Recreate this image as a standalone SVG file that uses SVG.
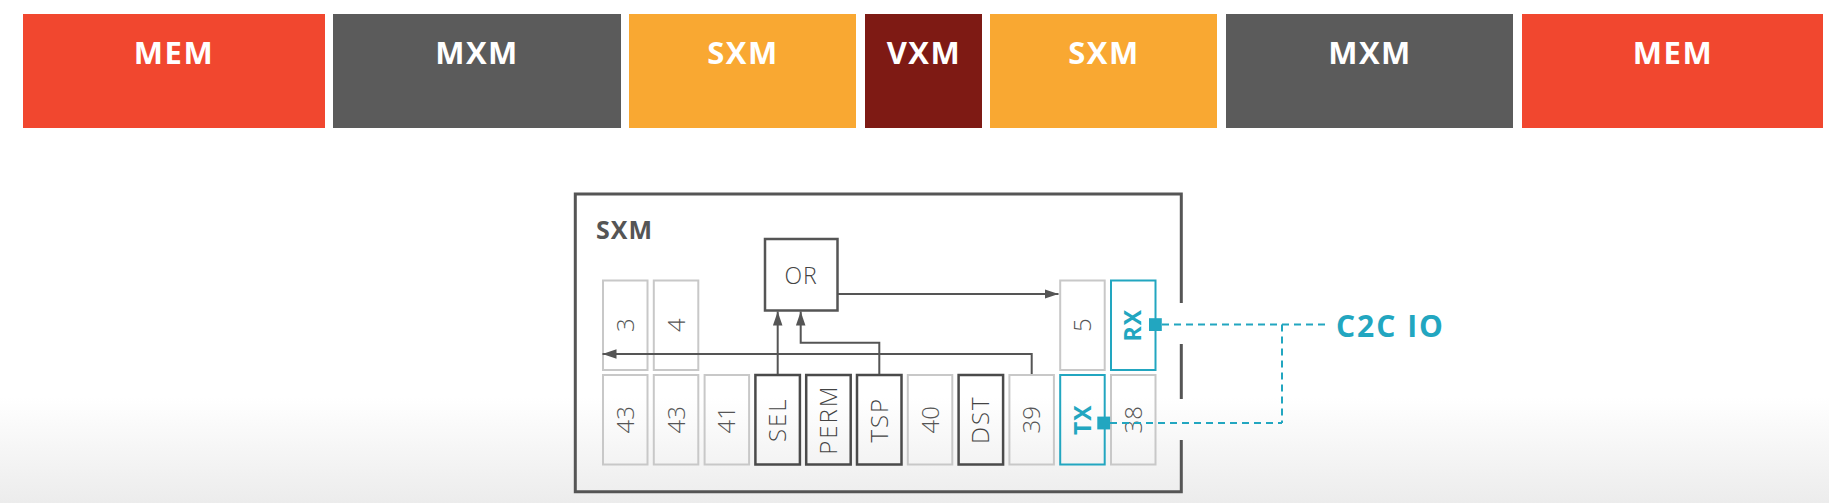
<svg xmlns="http://www.w3.org/2000/svg" width="1829" height="503" viewBox="0 0 1829 503">
<defs>
<linearGradient id="bg" x1="0" y1="0" x2="0" y2="503" gradientUnits="userSpaceOnUse">
<stop offset="0" stop-color="#ffffff"/>
<stop offset="0.79" stop-color="#ffffff"/>
<stop offset="1" stop-color="#ececec"/>
</linearGradient>
<marker id="ah" markerUnits="userSpaceOnUse" markerWidth="15" markerHeight="10" refX="14" refY="4.75" orient="auto">
<path d="M0,0 L14,4.75 L0,9.5 z" fill="#555"/>
</marker>
<style>
.bar text{font-family:"Open Sans","Liberation Sans",sans-serif;font-weight:700;font-size:31px;fill:#fff;text-anchor:middle;letter-spacing:1.5px}
.lc rect{fill:none;stroke:#c8c8c8;stroke-width:2}
.dc rect{fill:none;stroke:#4a4a4a;stroke-width:2.5}
.tc rect{fill:none;stroke:#22a6c0;stroke-width:2}
.tc rect.port,.port{fill:#22a6c0;stroke:none}
.num{font-family:"Open Sans","Liberation Sans",sans-serif;font-weight:300;font-size:24px;fill:#555;text-anchor:middle}
.lbl{font-family:"Open Sans","Liberation Sans",sans-serif;font-weight:300;font-size:24px;fill:#444;text-anchor:middle;letter-spacing:2px}
.tlbl{font-family:"Open Sans","Liberation Sans",sans-serif;font-weight:700;font-size:23px;fill:#22a6c0;text-anchor:middle;letter-spacing:1px}
.conn path{fill:none;stroke:#555;stroke-width:2}
.io path{fill:none;stroke:#22a6c0;stroke-width:2;stroke-dasharray:7 5}
</style>
</defs>
<rect x="0" y="0" width="1829" height="503" fill="url(#bg)"/>

<g id="bar-mem1" class="bar"><rect x="23" y="14" width="302" height="114" fill="#f1472f"/><text x="174" y="64">MEM</text></g>
<g id="bar-mxm1" class="bar"><rect x="333" y="14" width="288" height="114" fill="#5b5b5b"/><text x="477" y="64">MXM</text></g>
<g id="bar-sxm1" class="bar"><rect x="629" y="14" width="227" height="114" fill="#f9a832"/><text x="743" y="64">SXM</text></g>
<g id="bar-vxm" class="bar"><rect x="865" y="14" width="117" height="114" fill="#7e1a14"/><text x="924" y="64">VXM</text></g>
<g id="bar-sxm2" class="bar"><rect x="990" y="14" width="227" height="114" fill="#f9a832"/><text x="1104" y="64">SXM</text></g>
<g id="bar-mxm2" class="bar"><rect x="1226" y="14" width="287" height="114" fill="#5b5b5b"/><text x="1370" y="64">MXM</text></g>
<g id="bar-mem2" class="bar"><rect x="1522" y="14" width="301" height="114" fill="#f1472f"/><text x="1673" y="64">MEM</text></g>

<g id="sxm-box">
<path d="M1181.3,303 V194 H575.3 V491.7 H1181.3 V440 M1181.3,344 V399" fill="none" stroke="#555" stroke-width="3"/>
<text x="596" y="239" font-family="'Open Sans','Liberation Sans',sans-serif" font-weight="700" font-size="25" fill="#555" letter-spacing="1">SXM</text>
</g>

<g id="or">
<rect x="765" y="239" width="72.5" height="71.5" fill="none" stroke="#555" stroke-width="2.5"/>
<text x="801" y="284" font-family="'Open Sans','Liberation Sans',sans-serif" font-weight="300" font-size="23" fill="#444" text-anchor="middle" letter-spacing="1">OR</text>
</g>

<g id="cell-3" class="lc"><rect x="603" y="280.5" width="44.5" height="89.5"/><text class="num" transform="translate(625.2,325.2) rotate(-90)" dy="0.36em">3</text></g>
<g id="cell-4" class="lc"><rect x="653.8" y="280.5" width="44.5" height="89.5"/><text class="num" transform="translate(676,325.2) rotate(-90)" dy="0.36em">4</text></g>
<g id="cell-5" class="lc"><rect x="1060.2" y="280.5" width="44.5" height="89.5"/><text class="num" transform="translate(1082.4,325.2) rotate(-90)" dy="0.36em">5</text></g>
<g id="cell-rx" class="tc"><rect x="1111" y="280.5" width="44.5" height="89.5"/><text class="tlbl" transform="translate(1133.2,325.2) rotate(-90)" dy="0.36em">RX</text><rect class="port" x="1149" y="318.2" width="12.8" height="12.8"/></g>

<g id="cell-43a" class="lc"><rect x="603" y="375" width="44.5" height="89.5"/><text class="num" transform="translate(625.2,419.7) rotate(-90)" dy="0.36em">43</text></g>
<g id="cell-43b" class="lc"><rect x="653.8" y="375" width="44.5" height="89.5"/><text class="num" transform="translate(676,419.7) rotate(-90)" dy="0.36em">43</text></g>
<g id="cell-41" class="lc"><rect x="704.6" y="375" width="44.5" height="89.5"/><text class="num" transform="translate(726.8,419.7) rotate(-90)" dy="0.36em">41</text></g>
<g id="cell-sel" class="dc"><rect x="755.4" y="375" width="44.5" height="89.5"/><text class="lbl" transform="translate(777.6,419.7) rotate(-90)" dy="0.36em">SEL</text></g>
<g id="cell-perm" class="dc"><rect x="806.2" y="375" width="44.5" height="89.5"/><text class="lbl" transform="translate(828.4,419.7) rotate(-90)" dy="0.36em">PERM</text></g>
<g id="cell-tsp" class="dc"><rect x="857" y="375" width="44.5" height="89.5"/><text class="lbl" transform="translate(879.2,419.7) rotate(-90)" dy="0.36em">TSP</text></g>
<g id="cell-40" class="lc"><rect x="907.8" y="375" width="44.5" height="89.5"/><text class="num" transform="translate(930,419.7) rotate(-90)" dy="0.36em">40</text></g>
<g id="cell-dst" class="dc"><rect x="958.6" y="375" width="44.5" height="89.5"/><text class="lbl" transform="translate(980.8,419.7) rotate(-90)" dy="0.36em">DST</text></g>
<g id="cell-39" class="lc"><rect x="1009.4" y="375" width="44.5" height="89.5"/><text class="num" transform="translate(1031.6,419.7) rotate(-90)" dy="0.36em">39</text></g>
<g id="cell-38" class="lc"><rect x="1111" y="375" width="44.5" height="89.5"/><text class="num" transform="translate(1133.2,419.7) rotate(-90)" dy="0.36em">38</text></g>

<g id="connectors">
<g class="conn">
<path d="M777.7,374 V311.5" marker-end="url(#ah)"/>
<path d="M879.3,374 V342.7 H800.7 V311.5" marker-end="url(#ah)"/>
<path d="M1031.7,374 V354 H602.5" marker-end="url(#ah)"/>
<path d="M837.5,294 H1058.5" marker-end="url(#ah)"/>
</g>
<g class="io">
<path d="M1162,324.6 H1326"/>
<path d="M1282,324.6 V423"/>
<path d="M1110,423 H1282"/>
</g>
</g>

<g id="cell-tx" class="tc"><rect x="1060.2" y="375" width="44.5" height="89.5"/><text class="tlbl" transform="translate(1082.4,419.7) rotate(-90)" dy="0.36em">TX</text><rect class="port" x="1097.3" y="416.6" width="12.8" height="12.8"/></g>

<g id="c2c-io">
<text x="1336" y="336.7" font-family="'Open Sans','Liberation Sans',sans-serif" font-weight="700" font-size="30" fill="#22a6c0" letter-spacing="2">C2C IO</text>
</g>
</svg>
